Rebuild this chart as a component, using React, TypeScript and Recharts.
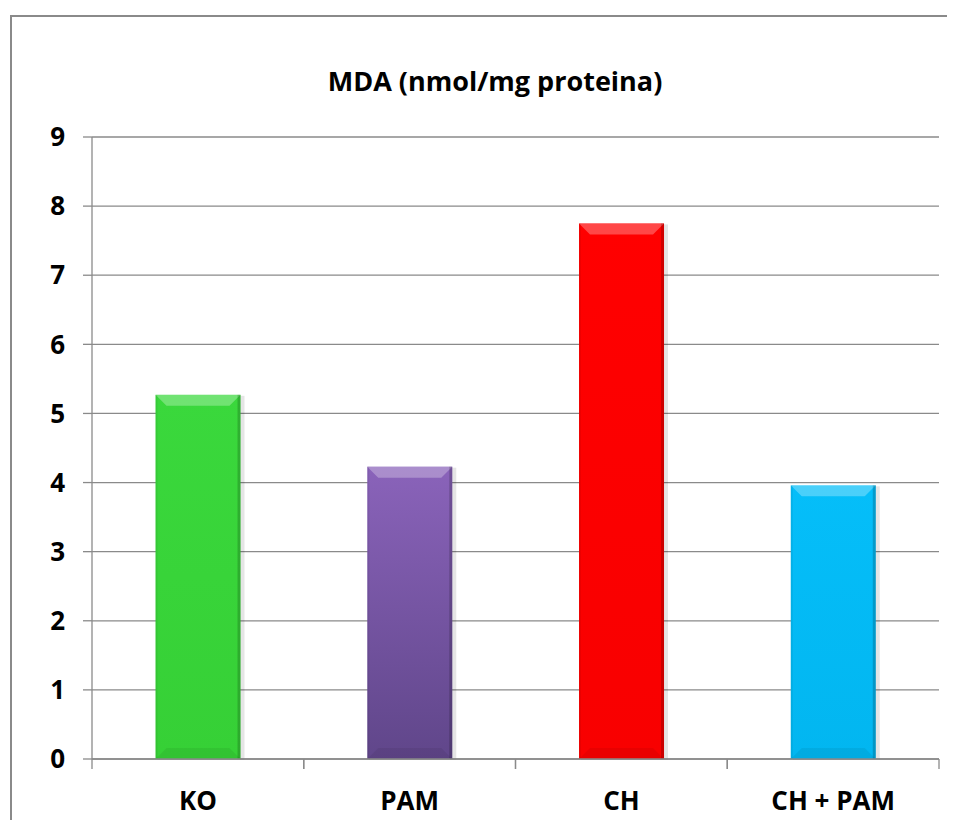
import { BarChart, Bar, XAxis, YAxis, CartesianGrid, Cell } from 'recharts'

const categories = ['KO', 'PAM', 'CH', 'CH + PAM']
const mdaValues = [5.27, 4.23, 7.75, 3.96]
const yTicks = [0, 1, 2, 3, 4, 5, 6, 7, 8, 9]

// top / bottom colour of each bar (purple one has a visible gradient)
const barTop = ['#3ad83c', '#8a63ba', '#ff0000', '#05bef9']
const barBottom = ['#36d036', '#60468a', '#f80000', '#02b6f0']

const data = categories.map((name, i) => ({ name, value: mdaValues[i] }))

const FONT = '"Open Sans", sans-serif'
const GRID = '#8a8a8a'

const CHART_W = 939
const CHART_H = 812
const MARGIN = { top: 129, right: 8, bottom: 0, left: 0 }
const Y_AXIS_W = 84
const BAND = (CHART_W - MARGIN.left - MARGIN.right - Y_AXIS_W) / categories.length

if (typeof document !== 'undefined') {
  document.documentElement.style.overflow = 'hidden'
}

function BevelBar(props: any) {
  const { x, y, width, height, index } = props
  if (!height || height <= 0) return null
  const b = 11
  const id = `bar-grad-${index}`
  return (
    <g>
      <defs>
        <linearGradient id={id} x1="0" y1="0" x2="0" y2="1">
          <stop offset="0%" stopColor={barTop[index]} />
          <stop offset="100%" stopColor={barBottom[index]} />
        </linearGradient>
      </defs>
      <rect x={x + 2} y={y + 1} width={width + 2} height={height} fill="#000" opacity={0.1} />
      <rect x={x} y={y} width={width} height={height} fill={`url(#${id})`} />
      <polygon
        points={`${x},${y} ${x + width},${y} ${x + width - b},${y + b} ${x + b},${y + b}`}
        fill="#fff"
        opacity={0.28}
      />
      <polygon
        points={`${x},${y + height} ${x + width},${y + height} ${x + width - b},${y + height - b} ${x + b},${y + height - b}`}
        fill="#000"
        opacity={0.06}
      />
      <rect x={x + width - 3} y={y} width={3} height={height} fill="#000" opacity={0.18} />
      <rect x={x} y={y} width={2} height={height} fill="#000" opacity={0.06} />
    </g>
  )
}

// category name at the band centre, tick marks at both band edges
function CategoryTick(props: any) {
  const { x, y, payload } = props
  const left = x - BAND / 2
  const right = x + BAND / 2
  return (
    <g>
      <line x1={left} y1={y} x2={left} y2={y + 10} stroke={GRID} strokeWidth={1.3} />
      <line x1={right} y1={y} x2={right} y2={y + 10} stroke={GRID} strokeWidth={1.3} />
      <text
        x={x}
        y={y + 33}
        dy="0.71em"
        textAnchor="middle"
        fill="#000"
        fontFamily={FONT}
        fontWeight={700}
        fontSize={26}
      >
        {payload.value}
      </text>
    </g>
  )
}

export default function App() {
  return (
    <div style={{ position: 'relative', width: 939, height: 812 }}>
      {/* outer frame: only its left and top edges are in the picture */}
      <div style={{ position: 'absolute', left: 2, top: 7, width: 945, height: 1.5, background: GRID }} />
      <div style={{ position: 'absolute', left: 2, top: 7, width: 1.5, height: 805, background: GRID }} />
      <div
        style={{
          position: 'absolute',
          left: 237,
          top: 55,
          width: 500,
          textAlign: 'center',
          fontFamily: FONT,
          fontWeight: 700,
          fontSize: 27,
          lineHeight: '36px',
          color: '#000',
        }}
      >
        MDA (nmol/mg proteina)
      </div>
      <div style={{ position: 'absolute', left: 0, top: 0 }}>
        <BarChart
          width={CHART_W}
          height={CHART_H}
          data={data}
          margin={MARGIN}
          barCategoryGap="30%"
        >
          <CartesianGrid vertical={false} stroke={GRID} strokeWidth={1.3} />
          <XAxis
            dataKey="name"
            height={61}
            interval={0}
            tickSize={0}
            tickMargin={0}
            tickLine={false}
            axisLine={{ stroke: GRID, strokeWidth: 1.3 }}
            tick={CategoryTick}
          />
          <YAxis
            width={Y_AXIS_W}
            domain={[0, 9]}
            ticks={yTicks}
            interval={0}
            tickSize={9}
            tickMargin={18}
            axisLine={{ stroke: GRID, strokeWidth: 1.3 }}
            tickLine={{ stroke: GRID, strokeWidth: 1.3 }}
            tick={{ fill: '#000', fontFamily: FONT, fontWeight: 700, fontSize: 26 }}
          />
          <Bar dataKey="value" shape={BevelBar} isAnimationActive={false}>
            {data.map((entry, i) => (
              <Cell key={entry.name} fill={barTop[i]} />
            ))}
          </Bar>
        </BarChart>
      </div>
    </div>
  )
}
